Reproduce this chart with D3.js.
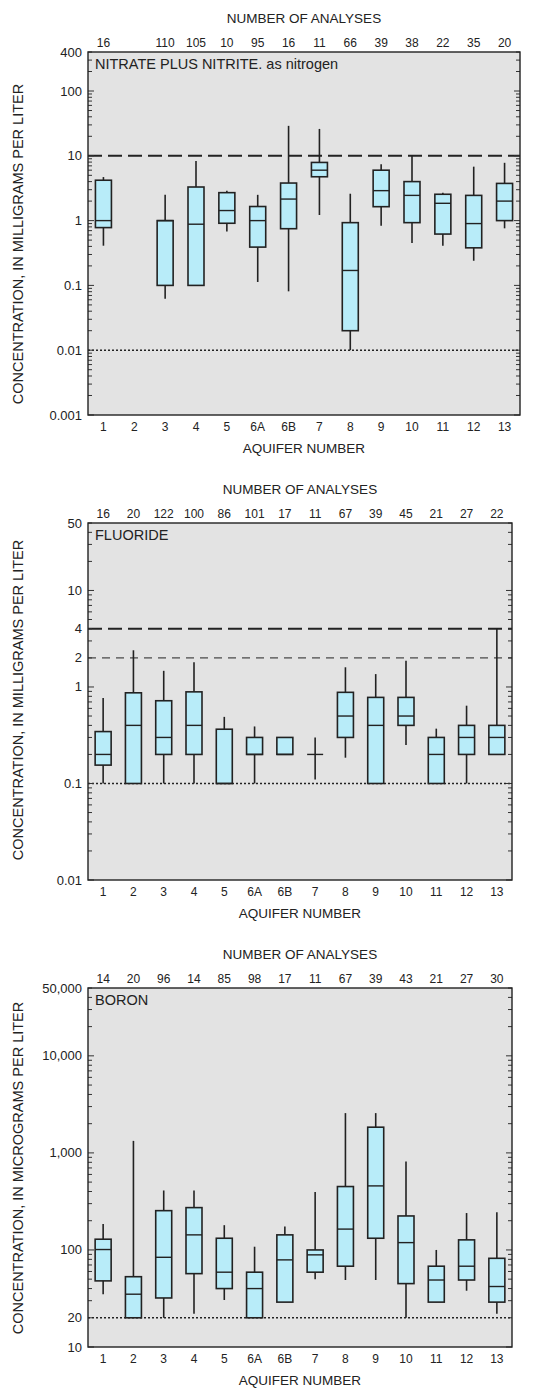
<!DOCTYPE html>
<html>
<head>
<meta charset="utf-8">
<script src="https://cdn.jsdelivr.net/npm/d3@7/dist/d3.min.js"></script>
<style>
  body { margin: 0; background: #fff; }
  svg text { font-family: "Liberation Sans", Arial, sans-serif; fill: #222; }
</style>
</head>
<body>
<div id="chart"></div>
<script>
// aquifers along the x axis
const aquifers = ['1', '2', '3', '4', '5', '6A', '6B', '7', '8', '9', '10', '11', '12', '13'];

// nitrate plus nitrite, as nitrogen (mg/L)
const nitrateCounts = [16, null, 110, 105, 10, 95, 16, 11, 66, 39, 38, 22, 35, 20];
const nitrateWhiskHi = [4.7, null, 2.5, 8.3, 2.9, 2.5, 29, 26, 2.6, 7.4, 10, 2.7, 6.8, 7.8];
const nitrateBoxHi = [4.2, null, 1.0, 3.3, 2.7, 1.65, 3.8, 7.9, 0.93, 6.0, 4.0, 2.55, 2.45, 3.75];
const nitrateMedian = [1.0, null, 1.0, 0.88, 1.43, 1.0, 2.15, 6.0, 0.17, 2.9, 2.45, 1.85, 0.9, 2.0];
const nitrateBoxLo = [0.78, null, 0.1, 0.1, 0.91, 0.39, 0.75, 4.75, 0.02, 1.64, 0.93, 0.62, 0.38, 1.0];
const nitrateWhiskLo = [0.41, null, 0.062, 0.1, 0.68, 0.113, 0.081, 1.22, 0.01, 0.83, 0.45, 0.41, 0.24, 0.76];
const nitrateTicks = [400, 100, 10, 1, 0.1, 0.01, 0.001];

// fluoride (mg/L)
const fluorideCounts = [16, 20, 122, 100, 86, 101, 17, 11, 67, 39, 45, 21, 27, 22];
const fluorideWhiskHi = [0.77, 2.4, 1.47, 1.8, 0.49, 0.39, 0.3, 0.3, 1.6, 1.36, 1.87, 0.37, 0.64, 4.0];
const fluorideBoxHi = [0.345, 0.87, 0.72, 0.89, 0.365, 0.3, 0.3, null, 0.88, 0.78, 0.78, 0.3, 0.4, 0.4];
const fluorideMedian = [0.2, 0.4, 0.3, 0.4, 0.1, 0.2, 0.2, 0.2, 0.5, 0.4, 0.5, 0.2, 0.3, 0.3];
const fluorideBoxLo = [0.155, 0.1, 0.2, 0.2, 0.1, 0.2, 0.2, null, 0.3, 0.1, 0.4, 0.1, 0.2, 0.2];
const fluorideWhiskLo = [0.1, 0.1, 0.1, 0.1, 0.1, 0.1, 0.2, 0.11, 0.185, 0.1, 0.25, 0.1, 0.1, 0.2];
const fluorideTicks = [50, 10, 4, 2, 1, 0.1, 0.01];

// boron (ug/L)
const boronCounts = [14, 20, 96, 14, 85, 98, 17, 11, 67, 39, 43, 21, 27, 30];
const boronWhiskHi = [185, 1330, 410, 410, 180, 108, 174, 395, 2570, 2570, 815, 100, 240, 245];
const boronBoxHi = [129, 53, 254, 273, 132, 59, 143, 100, 450, 1840, 224, 68, 127, 82];
const boronMedian = [101, 35, 84, 143, 59, 40, 79, 89, 164, 457, 119, 49, 68, 42];
const boronBoxLo = [48, 20, 32, 57, 40, 20, 29, 59, 68, 132, 45, 29, 49, 29];
const boronWhiskLo = [35, 20, 20, 22, 30.5, 20, 29, 50, 49, 49, 20, 29, 38, 22];
const boronTicks = [50000, 10000, 1000, 100, 20, 10];

const svg = d3.select('#chart').append('svg')
  .attr('width', 550)
  .attr('height', 1391);

function drawPanel(p) {
  const x = d3.scalePoint().domain(aquifers).range([p.left, p.right]).padding(0.5);
  const y = d3.scaleLog().domain(p.domain).range([p.bottom, p.top]);
  const g = svg.append('g');
  const boxW = 16;

  // plot background
  g.append('rect')
    .attr('x', p.left).attr('y', p.top)
    .attr('width', p.right - p.left).attr('height', p.bottom - p.top)
    .attr('fill', '#e3e3e3');

  // reference lines
  p.refs.forEach(r => {
    g.append('line')
      .attr('x1', p.left).attr('x2', p.right)
      .attr('y1', y(r.v)).attr('y2', y(r.v))
      .attr('stroke', '#222')
      .attr('stroke-width', r.w)
      .attr('stroke-dasharray', r.dash);
  });

  // y ticks, both sides, pointing inward
  const [lo, hi] = p.domain;
  const minor = [];
  for (let e = Math.floor(Math.log10(lo)); e <= Math.ceil(Math.log10(hi)); e++) {
    for (let m = 1; m <= 9; m++) {
      const v = m * Math.pow(10, e);
      if (v >= lo && v <= hi) minor.push(v);
    }
  }
  g.selectAll('.tick-l').data(minor).enter().append('line')
    .attr('x1', p.left).attr('x2', d => p.left + (Math.log10(d) % 1 === 0 ? 6 : 4))
    .attr('y1', d => y(d)).attr('y2', d => y(d))
    .attr('stroke', '#333').attr('stroke-width', 1);
  g.selectAll('.tick-r').data(minor).enter().append('line')
    .attr('x1', p.right).attr('x2', d => p.right - (Math.log10(d) % 1 === 0 ? 6 : 4))
    .attr('y1', d => y(d)).attr('y2', d => y(d))
    .attr('stroke', '#333').attr('stroke-width', 1);

  g.selectAll('.ylab').data(p.ticks).enter().append('text')
    .attr('x', p.left - 6)
    .attr('y', d => y(d) + 4.5)
    .attr('text-anchor', 'end')
    .attr('font-size', 13)
    .text(d => d >= 1000 ? d3.format(',')(d) : String(d));

  // boxes
  const rows = aquifers.map((a, i) => ({
    a, wHi: p.whiskHi[i], bHi: p.boxHi[i], med: p.median[i], bLo: p.boxLo[i], wLo: p.whiskLo[i]
  })).filter(d => d.med != null);

  g.selectAll('.whisk').data(rows).enter().append('line')
    .attr('x1', d => x(d.a)).attr('x2', d => x(d.a))
    .attr('y1', d => y(d.wHi)).attr('y2', d => y(d.wLo))
    .attr('stroke', '#222').attr('stroke-width', 1.6);

  g.selectAll('.box').data(rows.filter(d => d.bHi != null)).enter().append('rect')
    .attr('x', d => x(d.a) - boxW / 2)
    .attr('y', d => y(d.bHi))
    .attr('width', boxW)
    .attr('height', d => y(d.bLo) - y(d.bHi))
    .attr('fill', '#b8ecf9')
    .attr('stroke', '#222').attr('stroke-width', 1.6);

  g.selectAll('.med').data(rows).enter().append('line')
    .attr('x1', d => x(d.a) - boxW / 2).attr('x2', d => x(d.a) + boxW / 2)
    .attr('y1', d => y(d.med)).attr('y2', d => y(d.med))
    .attr('stroke', '#222').attr('stroke-width', 1.4);

  // frame
  g.append('rect')
    .attr('x', p.left).attr('y', p.top)
    .attr('width', p.right - p.left).attr('height', p.bottom - p.top)
    .attr('fill', 'none').attr('stroke', '#222').attr('stroke-width', 1.4);

  // category labels
  g.selectAll('.xlab').data(aquifers).enter().append('text')
    .attr('x', d => x(d)).attr('y', p.bottom + 16)
    .attr('text-anchor', 'middle').attr('font-size', 12)
    .text(d => d);

  // number of analyses
  g.selectAll('.count').data(aquifers.map((a, i) => ({ a, n: p.counts[i] })).filter(d => d.n != null))
    .enter().append('text')
    .attr('x', d => x(d.a)).attr('y', p.top - 5)
    .attr('text-anchor', 'middle').attr('font-size', 12)
    .text(d => d.n);

  const cx = (p.left + p.right) / 2;
  g.append('text').attr('x', cx).attr('y', p.top - 29)
    .attr('text-anchor', 'middle').attr('font-size', 13.5)
    .text('NUMBER OF ANALYSES');
  g.append('text').attr('x', cx).attr('y', p.bottom + 38)
    .attr('text-anchor', 'middle').attr('font-size', 13.5)
    .text('AQUIFER NUMBER');
  g.append('text').attr('x', p.left + 7).attr('y', p.top + 17)
    .attr('font-size', 14.5)
    .text(p.title);
  g.append('text')
    .attr('transform', `translate(23,${p.ymid}) rotate(-90)`)
    .attr('text-anchor', 'middle').attr('font-size', 14.5)
    .text(p.ytitle);
}

drawPanel({
  left: 88, right: 520, top: 52, bottom: 415, domain: [0.001, 400], ymid: 244,
  counts: nitrateCounts, whiskHi: nitrateWhiskHi, boxHi: nitrateBoxHi, median: nitrateMedian,
  boxLo: nitrateBoxLo, whiskLo: nitrateWhiskLo, ticks: nitrateTicks,
  title: 'NITRATE PLUS NITRITE. as nitrogen',
  ytitle: 'CONCENTRATION, IN MILLIGRAMS PER LITER',
  refs: [{ v: 10, w: 2, dash: '14,6' }, { v: 0.01, w: 1.6, dash: '2,2' }]
});

drawPanel({
  left: 88, right: 512, top: 523, bottom: 880, domain: [0.01, 50], ymid: 700,
  counts: fluorideCounts, whiskHi: fluorideWhiskHi, boxHi: fluorideBoxHi, median: fluorideMedian,
  boxLo: fluorideBoxLo, whiskLo: fluorideWhiskLo, ticks: fluorideTicks,
  title: 'FLUORIDE',
  ytitle: 'CONCENTRATION, IN MILLIGRAMS PER LITER',
  refs: [{ v: 4, w: 2, dash: '14,6' }, { v: 2, w: 1, dash: '8,6' }, { v: 0.1, w: 1.6, dash: '2,2' }]
});

drawPanel({
  left: 88, right: 512, top: 988, bottom: 1347, domain: [10, 50000], ymid: 1168,
  counts: boronCounts, whiskHi: boronWhiskHi, boxHi: boronBoxHi, median: boronMedian,
  boxLo: boronBoxLo, whiskLo: boronWhiskLo, ticks: boronTicks,
  title: 'BORON',
  ytitle: 'CONCENTRATION, IN MICROGRAMS PER LITER',
  refs: [{ v: 20, w: 1.6, dash: '2,2' }]
});
</script>
</body>
</html>
